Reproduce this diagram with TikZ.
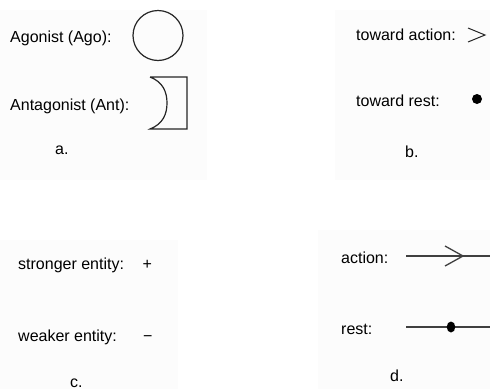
\documentclass[tikz,border=0pt]{standalone}
\usepackage{fontspec}
\setmainfont{Liberation Sans}
\usetikzlibrary{calc}
\begin{document}
\begin{tikzpicture}[x=1pt,y=-1pt,
  lbl/.style={anchor=base west,inner sep=0pt,font=\fontsize{16}{18}\selectfont,text=black},
  panel/.style={fill=black!1,draw=none},
  stroke/.style={line width=1.2pt,draw=black!85},
  thinline/.style={line width=1.3pt,draw=black!75}]
\useasboundingbox (0,0) rectangle (490,389);
\fill[white] (0,0) rectangle (490,389);
% faint panel backgrounds
\fill[panel] (0,10) rectangle (207,180);
\fill[panel] (335,10) rectangle (490,180);
\fill[panel] (0,240) rectangle (178,389);
\fill[panel] (318,230) rectangle (490,389);

% a. agonist / antagonist
\node[lbl] (ago) at (10,42.5) {Agonist (Ago):};
\node[lbl] (ant) at (10,110) {Antagonist (Ant):};
\node[lbl] (la) at (55,154) {a.};
\draw[stroke] (158,35.5) circle[radius=25];
\draw[stroke,line join=miter] (150,77) -- (187,77) -- (187,129) -- (150,129)
  .. controls (163,124) and (167,114) .. (167,103)
  .. controls (167,92) and (163,82) .. (150,77);

% b. directions
\node[lbl] (tact) at (356,40.5) {toward action:};
\node[lbl] (trest) at (356,106) {toward rest:};
\node[lbl] (lb) at (405,157) {b.};
\draw[line width=1pt,draw=black!85] (468,28) -- (485,35) -- (468,42);
\fill[black] (477,99) circle[radius=5];

% c. strength
\node[lbl] (strong) at (18,269) {stronger entity:};
\node[lbl] (weak) at (18,341) {weaker entity:};
\node[lbl] (lc) at (70,387) {c.};
\node[lbl] (plus) at (142.5,269) {+};
\node[lbl] (minus) at (143,341) {−};

% d. resultants
\node[lbl] (act) at (341,263) {action:};
\node[lbl] (rst) at (341,334) {rest:};
\node[lbl] (ld) at (390,381) {d.};
\coordinate (actS) at (406,256);
\coordinate (actE) at (490,256);
\coordinate (actTip) at (463,256);
\coordinate (rstS) at (406,327);
\coordinate (rstE) at (490,327);
\coordinate (rstDot) at (451,327);
\draw[thinline] (actS) -- (actE);
\draw[thinline] ($(actTip)+(-18,-10)$) -- (actTip) -- ($(actTip)+(-18,10)$);
\draw[thinline] (rstS) -- (rstE);
\fill[black] (rstDot) ellipse[x radius=4.3,y radius=5.5];
\end{tikzpicture}
\end{document}
